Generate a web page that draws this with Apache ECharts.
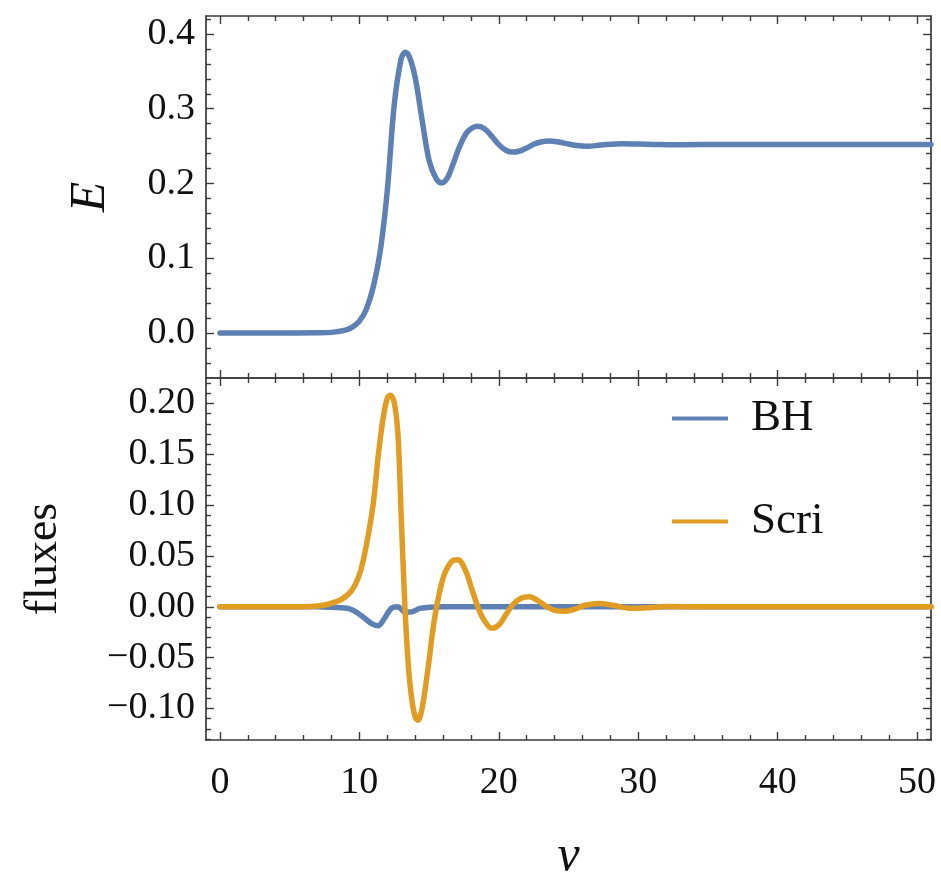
<!DOCTYPE html>
<html>
<head>
<meta charset="utf-8">
<title>E and fluxes vs v</title>
<script src="https://cdn.jsdelivr.net/npm/echarts@6/dist/echarts.min.js"></script>
<style>
  html, body { margin: 0; padding: 0; background: #ffffff; }
  #chart { width: 941px; height: 873px; }
</style>
</head>
<body>
<div id="chart"></div>
<script>
// ---- data ----------------------------------------------------------
// Energy E(v)
const vEnergy = [0, 4, 7, 8, 9, 9.5, 10, 10.5, 11, 11.5,
  12, 12.5, 13, 13.3, 13.6, 14, 14.5, 15, 15.5, 15.9,
  16.3, 16.7, 17.2, 17.7, 18.1, 18.5, 19, 19.5, 20, 20.5,
  21, 21.5, 22, 22.5, 23, 23.6, 24.2, 25, 25.6, 26.3,
  27, 27.7, 28.9, 30, 31.5, 33, 36, 42, 51];
const energy = [0, 0, 0.0005, 0.001, 0.004, 0.008, 0.016, 0.032, 0.062, 0.11,
  0.19, 0.305, 0.367, 0.3755, 0.369, 0.342, 0.285, 0.231, 0.207, 0.2008,
  0.207, 0.225, 0.250, 0.268, 0.2745, 0.2765, 0.273, 0.263, 0.252, 0.2445,
  0.242, 0.2435, 0.2475, 0.2525, 0.2555, 0.257, 0.2558, 0.2528, 0.2508, 0.2500,
  0.2507, 0.2522, 0.2533, 0.2528, 0.2521, 0.252, 0.2521, 0.2521, 0.2521];

// Flux through the horizon (BH)
const vBH = [0, 7, 8, 9.3, 10.25, 10.85, 11.33, 11.8, 12.29, 12.77,
  13.25, 13.73, 14.32, 15.0, 16, 18, 20, 51];
const fluxBH = [0, 0, -0.0005, -0.002, -0.0098, -0.0164, -0.0187, -0.0114, -0.0016, 0.0,
  -0.005, -0.005, -0.0016, -0.0005, 0, 0, 0, 0];

// Flux through null infinity (Scri)
const vScri = [0, 6, 7, 7.9, 8.8, 9.5, 10.1, 10.6, 11.0, 11.35,
  11.7, 12.0, 12.22, 12.5, 12.77, 13.0, 13.25, 13.5, 13.75, 14.0,
  14.2, 14.45, 14.7, 14.95, 15.4, 16.0, 16.6, 17.07, 17.6, 18.1,
  18.5, 18.9, 19.5, 20.0, 20.5, 21.0, 21.6, 22.2, 22.8, 23.4,
  24.0, 24.7, 25.4, 26.2, 27.2, 28.2, 29.5, 30.7, 32, 35, 51];
const fluxScri = [0, 0, 0.0008, 0.003, 0.008, 0.017, 0.036, 0.068, 0.102, 0.148,
  0.185, 0.205, 0.208, 0.201, 0.169, 0.09, 0.005, -0.055, -0.09, -0.108,
  -0.1115, -0.103, -0.083, -0.058, -0.011, 0.028, 0.0443, 0.0462, 0.036, 0.016,
  0.0, -0.012, -0.0212, -0.018, -0.008, 0.002, 0.0085, 0.0098, 0.006, 0.0005,
  -0.0035, -0.0045, -0.0025, 0.0015, 0.0033, 0.0015, -0.0015, -0.001, 0.0002, 0, 0];

// tick labels
const vTicks = [0, 10, 20, 30, 40, 50];
const energyTicks = [0, 0.1, 0.2, 0.3, 0.4];
const fluxTicks = [-0.10, -0.05, 0, 0.05, 0.10, 0.15, 0.20];

const seriesNames = ['BH', 'Scri'];

// ---- styling ---------------------------------------------------------
const BLUE = '#5E81B5';
const ORANGE = '#E19C24';
const FRAME = '#3a3a3a';
const TEXT = '#111111';
const FONT = '"Liberation Serif", "Times New Roman", serif';

const V_RANGE = [-1, 51];
const E_RANGE = [-0.06, 0.424];
const FLUX_RANGE = [-0.131, 0.225];

// minor tick positions between the labelled ticks
function minorTicks(lo, hi, step, majors) {
  const out = [];
  const n0 = Math.ceil(lo / step - 1e-9), n1 = Math.floor(hi / step + 1e-9);
  for (let k = n0; k <= n1; k++) {
    const v = Math.round(k * step * 1e6) / 1e6;
    if (v <= lo || v >= hi) continue;
    if (majors.some(m => Math.abs(m - v) < step / 10)) continue;
    out.push(v);
  }
  return out;
}

const pairs = (xs, ys) => xs.map((x, i) => [x, ys[i]]);

const frameLine = { show: true, onZero: false, lineStyle: { color: FRAME, width: 1.7 } };
const tickStyle = { color: FRAME, width: 1.4 };
const labelFont = { fontFamily: FONT, fontSize: 38, color: TEXT };

function xAxes(gridIndex, labelled) {
  const minors = minorTicks(V_RANGE[0], V_RANGE[1], 2, vTicks);
  const base = { type: 'value', gridIndex, min: V_RANGE[0], max: V_RANGE[1], splitLine: { show: false } };
  const list = [];
  ['bottom', 'top'].forEach(pos => {
    const showLab = labelled && pos === 'bottom';
    const major = Object.assign({}, base, {
      position: pos,
      axisLine: frameLine,
      axisTick: { show: true, inside: true, length: 8, customValues: vTicks, lineStyle: tickStyle },
      axisLabel: Object.assign({ show: showLab, customValues: vTicks, margin: 24,
        formatter: v => String(Math.round(v)) }, labelFont)
    });
    if (showLab) {
      major.name = 'v';
      major.nameLocation = 'middle';
      major.nameGap = 92;
      major.nameTextStyle = { fontFamily: FONT, fontStyle: 'italic', fontSize: 50, color: TEXT };
    }
    list.push(major);
    list.push(Object.assign({}, base, {
      position: pos,
      axisLine: { show: false, onZero: false },
      axisTick: { show: true, inside: true, length: 5, customValues: minors, lineStyle: tickStyle },
      axisLabel: { show: false }
    }));
  });
  return list;
}

function yAxes(gridIndex, range, majors, minorStep, digits, name, nameGap, nameStyle) {
  const minors = minorTicks(range[0], range[1], minorStep, majors);
  const base = { type: 'value', gridIndex, min: range[0], max: range[1], splitLine: { show: false } };
  const list = [];
  ['left', 'right'].forEach(pos => {
    const showLab = pos === 'left';
    const major = Object.assign({}, base, {
      position: pos,
      axisLine: frameLine,
      axisTick: { show: true, inside: true, length: 8, customValues: majors, lineStyle: tickStyle },
      axisLabel: Object.assign({ show: showLab, customValues: majors, margin: 11,
        formatter: v => v.toFixed(digits).replace('-', '\u2212') }, labelFont)
    });
    if (showLab) {
      major.name = name;
      major.nameLocation = 'middle';
      major.nameRotate = 90;
      major.nameGap = nameGap;
      major.nameTextStyle = Object.assign({ fontFamily: FONT, color: TEXT }, nameStyle);
    }
    list.push(major);
    list.push(Object.assign({}, base, {
      position: pos,
      axisLine: { show: false, onZero: false },
      axisTick: { show: true, inside: true, length: 5, customValues: minors, lineStyle: tickStyle },
      axisLabel: { show: false }
    }));
  });
  return list;
}

const lineSeries = (name, xi, yi, data, color) => ({
  type: 'line', name, xAxisIndex: xi, yAxisIndex: yi, data,
  showSymbol: false, symbol: 'none', smooth: 0.35,
  lineStyle: { color, width: 5.5, cap: 'round', join: 'round' }, itemStyle: { color },
  emphasis: { disabled: true }, animation: false
});

const option = {
  backgroundColor: '#ffffff',
  animation: false,
  grid: [
    { left: 206, top: 16, width: 725, height: 362, outerBoundsMode: 'none' },
    { left: 206, top: 378, width: 725, height: 362, outerBoundsMode: 'none' }
  ],
  xAxis: [].concat(xAxes(0, false), xAxes(1, true)),
  yAxis: [].concat(
    yAxes(0, E_RANGE, energyTicks, 0.02, 1, 'E', 90, { fontStyle: 'italic', fontSize: 50 }),
    yAxes(1, FLUX_RANGE, fluxTicks, 0.01, 2, 'fluxes', 139, { fontSize: 46 })
  ),
  legend: {
    data: seriesNames,
    orient: 'vertical',
    left: 667, top: 391,
    itemWidth: 56, itemHeight: 4, itemGap: 58,
    icon: 'rect',
    selectedMode: false,
    textStyle: { fontFamily: FONT, fontSize: 45, color: TEXT, padding: [0, 0, 0, 18] }
  },
  series: [
    lineSeries('E', 0, 0, pairs(vEnergy, energy), BLUE),
    lineSeries(seriesNames[0], 4, 4, pairs(vBH, fluxBH), BLUE),
    lineSeries(seriesNames[1], 4, 4, pairs(vScri, fluxScri), ORANGE)
  ]
};

const chart = echarts.init(document.getElementById('chart'), null, { renderer: 'canvas' });
chart.setOption(option);
</script>
</body>
</html>
